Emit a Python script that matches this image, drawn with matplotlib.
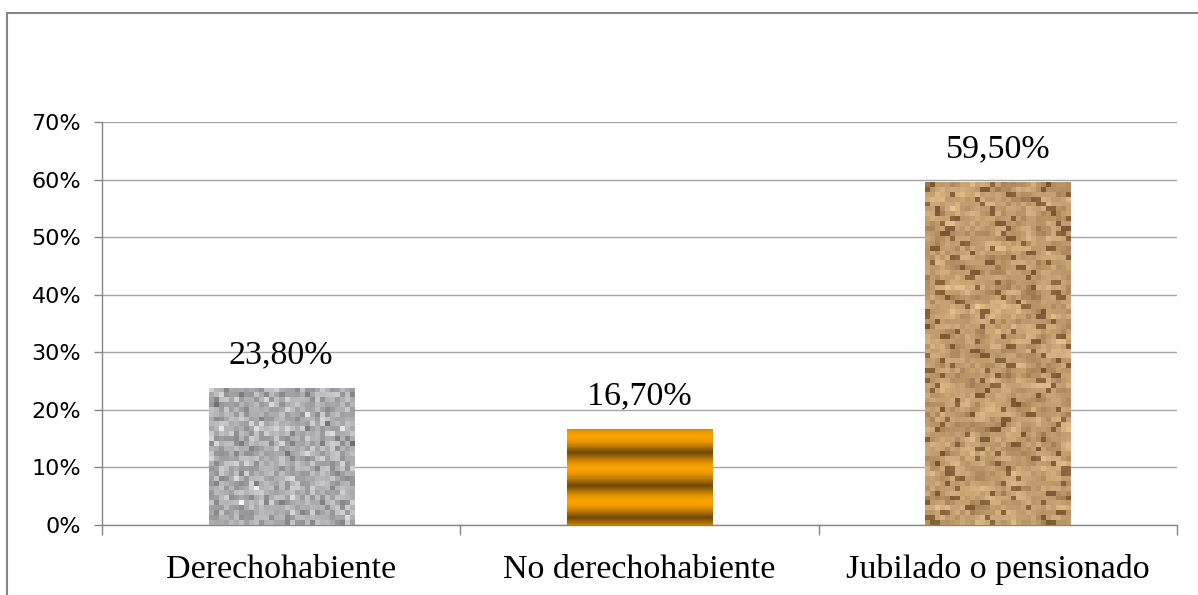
import numpy as np
import matplotlib
matplotlib.use("Agg")
import matplotlib.pyplot as plt
from matplotlib.patches import Rectangle
from matplotlib.ticker import PercentFormatter, FixedLocator

# Chart data
categories = ["Derechohabiente", "No derechohabiente", "Jubilado o pensionado"]
values = [23.8, 16.7, 59.5]
value_labels = ["23,80%", "16,70%", "59,50%"]
y_ticks = [0, 10, 20, 30, 40, 50, 60, 70]

fig = plt.figure(figsize=(11.98, 5.95), dpi=100)
ax = fig.add_axes([0.0851, 0.1176, 0.8974, 0.6774])

# outer chart border (cut off at right and bottom like the original)
fig.patches.append(Rectangle((7 / 1198, -0.05), 1.2, 1 - 13 / 595 + 0.05,
                             transform=fig.transFigure, fill=False,
                             edgecolor="#868686", lw=1.5))

x = np.arange(len(categories))
bars = ax.bar(x, values, width=0.405, color="none", edgecolor="none", zorder=3)


# fill textures for the bars (decoration only)
def granite():
    rs = np.random.RandomState(3)
    g = rs.normal(0.68, 0.08, size=(28, 29))
    return np.dstack([g, g, g * 1.01])


def stripes():
    t = np.arange(96)
    s = 0.5 + 0.5 * np.cos(2 * np.pi * (t - 8) / 32)
    light = np.array([0.98, 0.64, 0.0])
    dark = np.array([0.45, 0.29, 0.02])
    col = dark + (light - dark) * s[:, None] ** 0.6
    return np.repeat(col[:, None, :], 4, axis=1)


def sand():
    rs = np.random.RandomState(11)
    h, w = 70, 29
    n = rs.uniform(0, 1, size=(h, w))
    # light smoothing so patches look like rock instead of pure noise
    n = (n + np.roll(n, 1, 0) + np.roll(n, 1, 1) + np.roll(n, -1, 1)) / 4
    n = (n - n.min()) / (n.max() - n.min())
    yy, xx = np.mgrid[0:h, 0:w]
    crack = np.sin((xx * 0.55 + yy * 0.9) + rs.uniform(0, 6, size=(h, 1))) > 0.93
    base = 0.45 + 0.55 * n
    base[crack] *= 0.4
    light = np.array([0.92, 0.78, 0.58])
    dark = np.array([0.36, 0.22, 0.08])
    return dark + (light - dark) * base[:, :, None]


textures = [granite(), stripes(), sand()]
for bar, tex in zip(bars, textures):
    x0, y0 = bar.get_x(), bar.get_y()
    w, h = bar.get_width(), bar.get_height()
    im = ax.imshow(np.clip(tex, 0, 1), extent=[x0, x0 + w, y0, y0 + h],
                   aspect="auto", interpolation="nearest", zorder=3)
    im.set_clip_path(bar)

for xi, v, lab in zip(x, values, value_labels):
    ax.annotate(lab, (xi, v), xytext=(0, 18), textcoords="offset points",
                ha="center", va="baseline", fontsize=24.5,
                family="Liberation Serif", color="black", zorder=4)

ax.set_xlim(-0.5, 2.5)
ax.set_ylim(0, 70)
ax.set_yticks(y_ticks)
ax.yaxis.set_major_formatter(PercentFormatter(decimals=0))
ax.grid(axis="y", color="#a6a6a6", lw=1, zorder=0)
ax.set_axisbelow(True)

# category boundaries as ticks, names centred under bars
ax.xaxis.set_major_locator(FixedLocator([-0.5, 0.5, 1.5, 2.5]))
ax.xaxis.set_minor_locator(FixedLocator(x))
ax.set_xticklabels([])
ax.set_xticklabels(categories, minor=True)
ax.tick_params(axis="x", which="major", length=7, color="#868686", width=1)
ax.tick_params(axis="x", which="minor", length=0, pad=21, labelsize=24.5)
ax.tick_params(axis="y", length=6, color="#868686", width=1, pad=9,
               labelsize=16)
for t in ax.get_xticklabels(minor=True):
    t.set_family("Liberation Serif")

for s in ["top", "right"]:
    ax.spines[s].set_visible(False)
for s in ["left", "bottom"]:
    ax.spines[s].set_color("#868686")
    ax.spines[s].set_linewidth(1)

fig.savefig("out.png", dpi=100)
